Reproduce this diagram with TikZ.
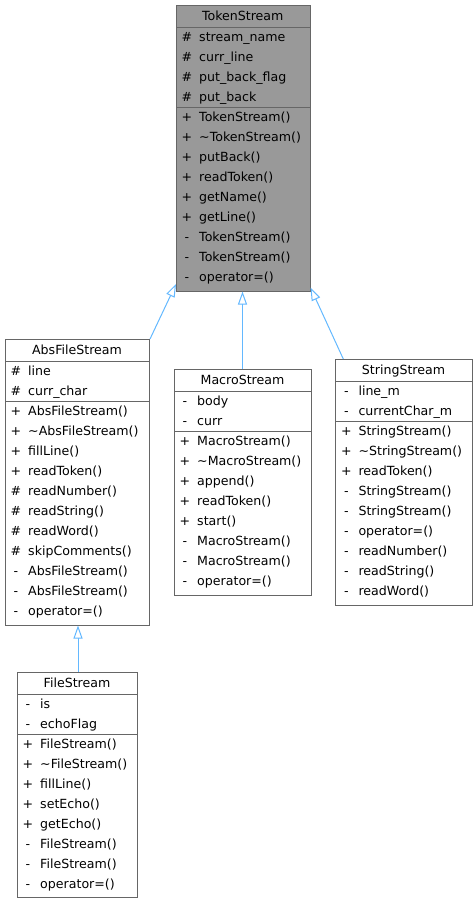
\documentclass[tikz,border=0pt]{standalone}
\usepackage{fontspec}
\setmainfont{DejaVu Sans}
\usetikzlibrary{arrows.meta}
\definecolor{bordergray}{HTML}{666666}
\definecolor{basegray}{HTML}{999999}
\definecolor{edgeblue}{HTML}{63B8FF}
\newcommand{\fs}{\fontsize{12.6}{14}\selectfont}
\tikzset{
  cls/.style={draw=bordergray, line width=1pt, fill=white, anchor=north west, inner sep=0pt},
  basecls/.style={cls, fill=basegray},
  ttl/.style={font=\fs, inner sep=0pt, anchor=base},
  sym/.style={font=\fs, inner sep=0pt, anchor=base},
  mem/.style={font=\fs, inner sep=0pt, anchor=base west},
  sepline/.style={draw=bordergray, line width=1pt},
  inh/.style={draw=edgeblue, line width=1pt, -{Triangle[open, length=13pt, width=9pt, fill=white]}}
}
% #1 name prefix, #2 x-left, #3 first row top, #4 list sym/text
\newcommand{\umlrows}[4]{%
  \foreach \s/\t [count=\i] in {#4} {
    \node[sym] (#1s\i) at (#2+11, #3+20*\i-20+14) {\s};
    \node[mem] (#1m\i) at (#2+23, #3+20*\i-20+14) {\t};
  }}
\begin{document}
\begin{tikzpicture}[x=1pt,y=-1pt]
\useasboundingbox (0,0) rectangle (475,903);

% TokenStream
\node[basecls, minimum width=133.5pt, minimum height=285.5pt] (ts) at (176,5) {};
\node[ttl] (tst) at (242.75,20.5) {TokenStream};
\draw[sepline] (ts.west |- 0,27.5) -- (ts.east |- 0,27.5);
\draw[sepline] (ts.west |- 0,107.5) -- (ts.east |- 0,107.5);
\umlrows{tsa}{176}{27.5}{\#/stream\_name, \#/curr\_line, \#/put\_back\_flag, \#/put\_back}
\umlrows{tso}{176}{107.5}{+/TokenStream(), +/\textasciitilde TokenStream(), +/putBack(), +/readToken(), +/getName(), +/getLine(), -/TokenStream(), -/TokenStream(), -/operator=()}

% AbsFileStream
\node[cls, minimum width=144pt, minimum height=285.5pt] (afs) at (5,339) {};
\node[ttl] (afst) at (77,354.5) {AbsFileStream};
\draw[sepline] (afs.west |- 0,361.5) -- (afs.east |- 0,361.5);
\draw[sepline] (afs.west |- 0,401.5) -- (afs.east |- 0,401.5);
\umlrows{afsa}{5}{361.5}{\#/line, \#/curr\_char}
\umlrows{afso}{5}{401.5}{+/AbsFileStream(), +/\textasciitilde AbsFileStream(), +/fillLine(), +/readToken(), \#/readNumber(), \#/readString(), \#/readWord(), \#/skipComments(), -/AbsFileStream(), -/AbsFileStream(), -/operator=()}

% MacroStream
\node[cls, minimum width=137pt, minimum height=225.5pt] (ms) at (174,369) {};
\node[ttl] (mst) at (242.5,384.5) {MacroStream};
\draw[sepline] (ms.west |- 0,391.5) -- (ms.east |- 0,391.5);
\draw[sepline] (ms.west |- 0,431.5) -- (ms.east |- 0,431.5);
\umlrows{msa}{174}{391.5}{-/body, -/curr}
\umlrows{mso}{174}{431.5}{+/MacroStream(), +/\textasciitilde MacroStream(), +/append(), +/readToken(), +/start(), -/MacroStream(), -/MacroStream(), -/operator=()}

% StringStream
\node[cls, minimum width=136.4pt, minimum height=245.5pt] (ss) at (335.3,359) {};
\node[ttl] (sst) at (403.5,374.5) {StringStream};
\draw[sepline] (ss.west |- 0,381.5) -- (ss.east |- 0,381.5);
\draw[sepline] (ss.west |- 0,421.5) -- (ss.east |- 0,421.5);
\umlrows{ssa}{335.3}{381.5}{-/line\_m, -/currentChar\_m}
\umlrows{sso}{335.3}{421.5}{+/StringStream(), +/\textasciitilde StringStream(), +/readToken(), -/StringStream(), -/StringStream(), -/operator=(), -/readNumber(), -/readString(), -/readWord()}

% FileStream
\node[cls, minimum width=120pt, minimum height=225.5pt] (fs) at (17,671.7) {};
\node[ttl] (fst) at (77,687.2) {FileStream};
\draw[sepline] (fs.west |- 0,694.2) -- (fs.east |- 0,694.2);
\draw[sepline] (fs.west |- 0,734.2) -- (fs.east |- 0,734.2);
\umlrows{fsa}{17}{694.2}{-/is, -/echoFlag}
\umlrows{fso}{17}{734.2}{+/FileStream(), +/\textasciitilde FileStream(), +/fillLine(), +/setEcho(), +/getEcho(), -/FileStream(), -/FileStream(), -/operator=()}

% inheritance edges
\draw[inh] (afs.north east) -- ([yshift=7.5pt]ts.south west);
\draw[inh] ([xshift=-0.5pt]ms.north) -- ([xshift=-0.5pt]ms.north |- ts.south);
\draw[inh] ([xshift=8pt]ss.north west) -- ([yshift=4pt]ts.south east);
\draw[inh] ([xshift=0.5pt]fs.north) -- ([xshift=0.5pt]fs.north |- afs.south);
\end{tikzpicture}
\end{document}
